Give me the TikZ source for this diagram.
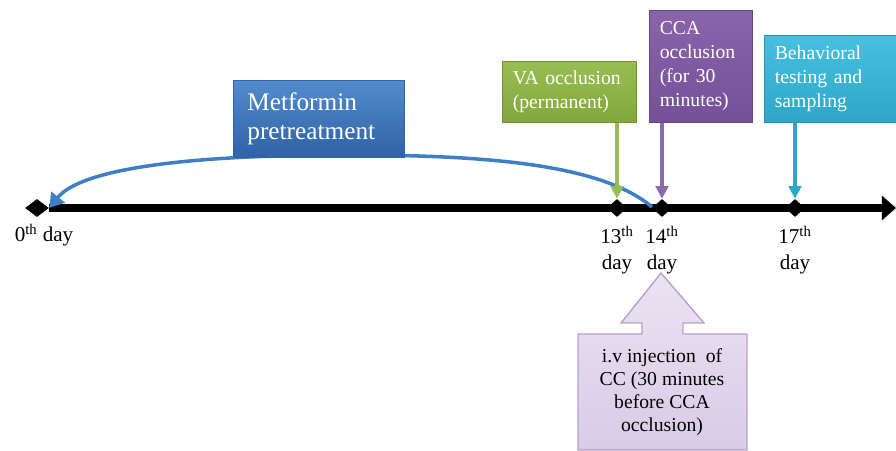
\documentclass[tikz,border=0pt]{standalone}
\usepackage{fontspec}
\setmainfont{Liberation Serif}
\usetikzlibrary{arrows.meta,shapes.geometric,positioning}

\definecolor{metblue}{HTML}{3F7FC6}
\definecolor{metdark}{HTML}{2F62A6}
\definecolor{vagreen}{HTML}{8DB640}
\definecolor{ccapurple}{HTML}{7F57A3}
\definecolor{behcyan}{HTML}{33B9DD}
\definecolor{injlav}{HTML}{DDD1EA}

\tikzset{
  tick/.style={diamond, fill=black, inner sep=0pt, minimum width=0.5cm, minimum height=0.45cm},
  daylbl/.style={align=center, inner sep=2pt, font=\fontsize{15}{18}\selectfont},
  box/.style={anchor=north west, text=white, align=left, inner xsep=7.5pt, font=\fontsize{14}{17}\selectfont},
  pin/.style={line width=2.2pt, -{Triangle[length=9pt,width=9pt]}}
}

\begin{document}
\begin{tikzpicture}[x=0.025cm,y=-0.025cm]
\useasboundingbox (0,0) rectangle (896,451);

% time line
\node[tick, minimum width=0.6cm] (d0) at (37,208) {};
\node[tick] (d13) at (617,208) {};
\node[tick] (d14) at (662,208) {};
\node[tick] (d17) at (795,208) {};
\coordinate (tend) at (896,208);
\coordinate (arcR) at (652,207);

\draw[line width=5.5pt, -{Triangle[length=10pt,width=17pt]}] (d0.east) -- (tend);

\node[daylbl, below=0.1cm of d0, xshift=0.175cm] {0\textsuperscript{th} day};
\node[daylbl, below=0.15cm of d13] {13\textsuperscript{th}\\day};
\node[daylbl, below=0.15cm of d14] {14\textsuperscript{th}\\day};
\node[daylbl, below=0.15cm of d17] {17\textsuperscript{th}\\day};

% pretreatment arc
\draw[metblue, line width=2.5pt, -{Triangle[length=10pt,width=12pt]}] (arcR) .. controls (600,163) and (480,155) .. (345,155) .. controls (180,155) and (80,170) .. (d0.east);

% boxes
\node[box, draw=metdark, top color=metblue!90!white, bottom color=metdark, inner xsep=10pt, text width=3.57cm, minimum height=1.925cm, font=\fontsize{18}{21}\selectfont] (met) at (233,80) {Metformin\\pretreatment};
\node[box, draw=vagreen!80!black, top color=vagreen!90!white, bottom color=vagreen!92!black, text width=2.82cm, minimum height=1.525cm] (va) at (502,61) {VA occlusion\\(permanent)};
\node[box, draw=ccapurple!80!black, top color=ccapurple!92!white, bottom color=ccapurple!92!black, text width=2.045cm, minimum height=2.8cm] (cca) at (649,10) {CCA\\occlusion\\(for 30\\minutes)};
\node[box, draw=behcyan!80!black, top color=behcyan!90!white, bottom color=behcyan!90!black, text width=2.87cm, minimum height=2.175cm] (beh) at (764,35) {Behavioral\\testing and\\sampling};

\draw[pin, vagreen!90!white] (va.south -| d13) -- (d13.north);
\draw[pin, ccapurple!90!white] (cca.south -| d14) -- (d14.north);
\draw[pin, behcyan!90!black] (beh.south -| d17) -- (d17.north);

% injection
\draw[draw=injlav!60!ccapurple, line width=1pt, top color=injlav!60!white, bottom color=injlav!95!ccapurple] (578,334) -- (642,334) -- (642,323) -- (621,323) -- (661,273) -- (704,323) -- (683,323) -- (683,334) -- (747,334) -- (747,450) -- (578,450) -- cycle;
\node[align=center, font=\fontsize{14}{16.5}\selectfont] (inj) at (662,392) {i.v injection\ \ of\\CC (30 minutes\\before CCA\\occlusion)};

\end{tikzpicture}
\end{document}
